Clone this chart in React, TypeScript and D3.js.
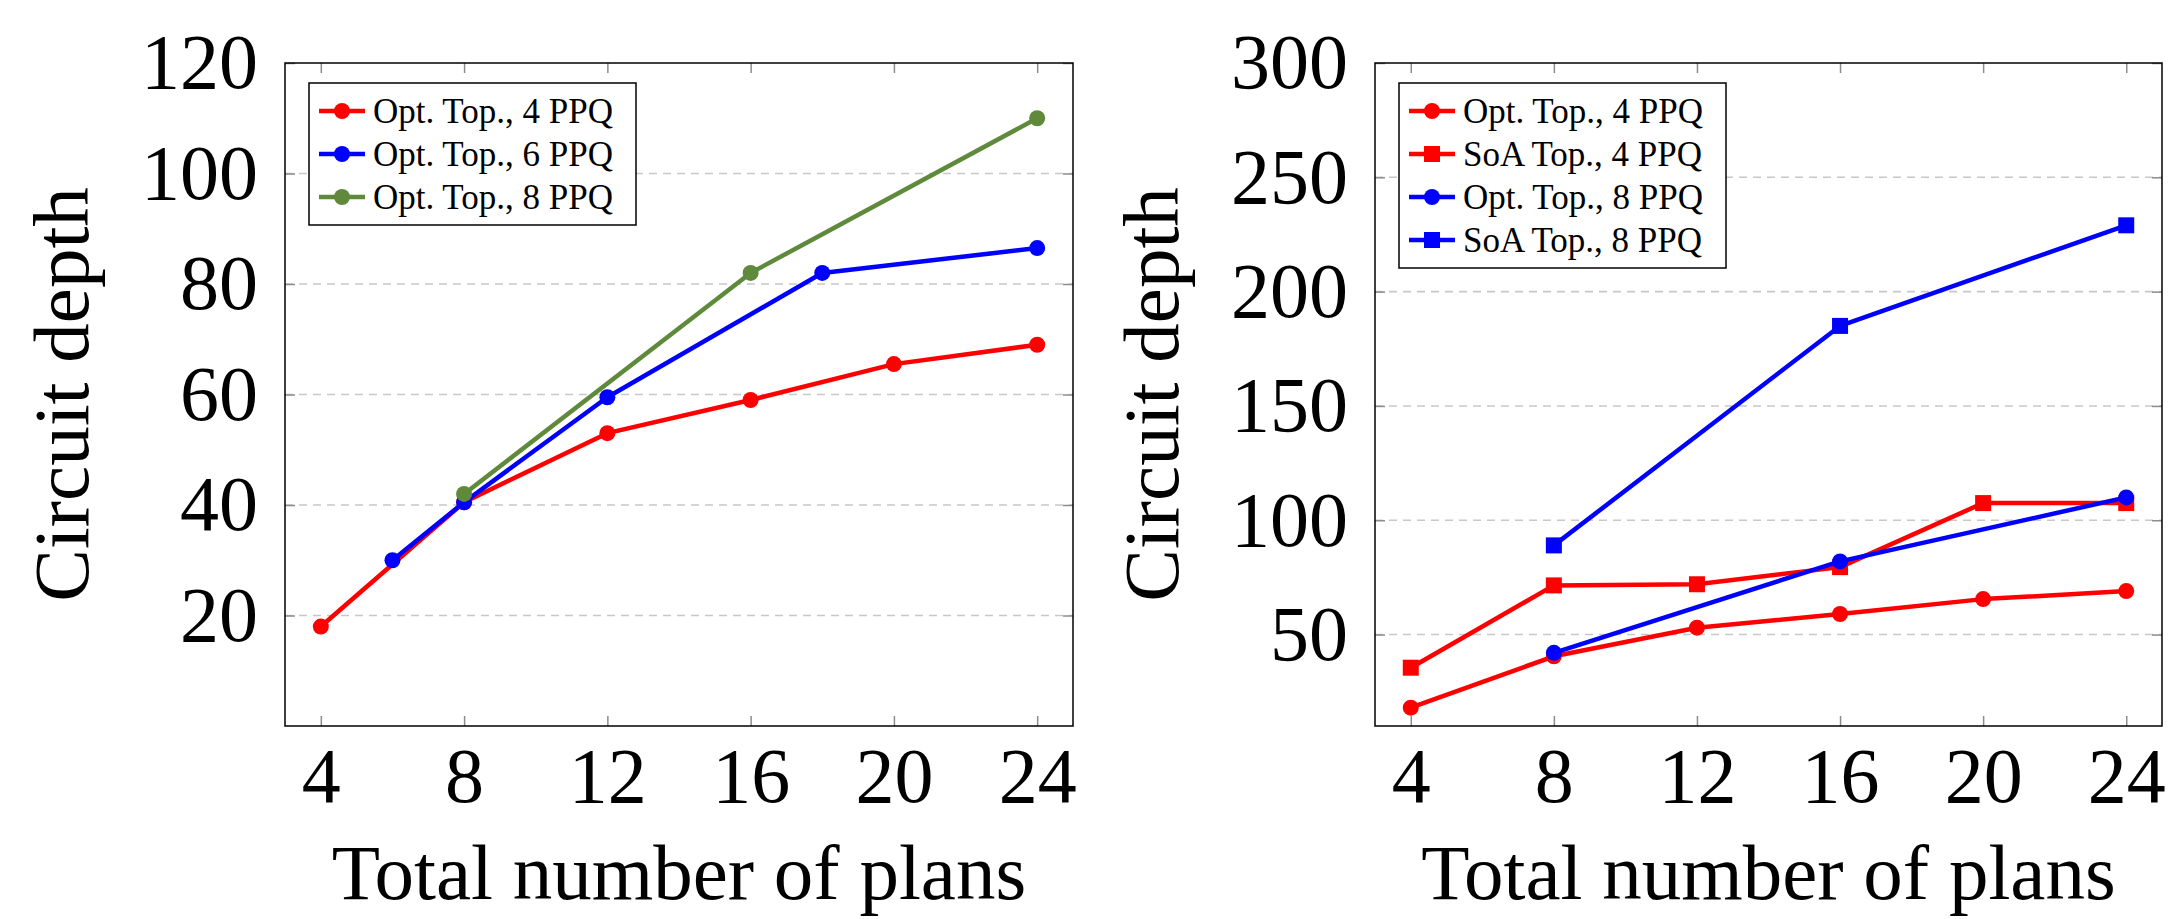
import { useEffect, useRef } from "react";
import * as d3 from "d3";

// x axis: total number of plans
const planTicks = [4, 8, 12, 16, 20, 24];
const leftYTicks = [20, 40, 60, 80, 100, 120];
const rightYTicks = [50, 100, 150, 200, 250, 300];

// Opt. Top., 4 PPQ (both panels)
const opt4X = [4, 8, 12, 16, 20, 24];
const opt4Y = [18, 40.5, 53, 59, 65.5, 69];
// Opt. Top., 6 PPQ (left panel)
const opt6X = [6, 8, 12, 18, 24];
const opt6Y = [30, 40.5, 59.5, 82, 86.5];
// Opt. Top., 8 PPQ (both panels)
const opt8X = [8, 16, 24];
const opt8Y = [42, 82, 110];
// SoA Top., 4 PPQ (right panel)
const soa4X = [4, 8, 12, 16, 20, 24];
const soa4Y = [35.5, 71.5, 72, 79.5, 107.5, 107.5];
// SoA Top., 8 PPQ (right panel)
const soa8X = [8, 16, 24];
const soa8Y = [89, 185, 229];

const RED = "#ff0000";
const BLUE = "#0000ff";
const GREEN = "#5f8a3c";
const FONT = "'Liberation Serif', 'Times New Roman', serif";

function drawPanel(svg, opts) {
  const { left, top, width, height, yDomain, yTicks, series } = opts;
  const x = d3.scaleLinear().domain([3, 25]).range([left, left + width]);
  const y = d3.scaleLinear().domain(yDomain).range([top + height, top]);
  const g = svg.append("g");

  // dashed horizontal grid
  g.selectAll("line.grid")
    .data(yTicks.filter((t) => t < yDomain[1]))
    .enter()
    .append("line")
    .attr("class", "grid")
    .attr("x1", left)
    .attr("x2", left + width)
    .attr("y1", (d) => y(d))
    .attr("y2", (d) => y(d))
    .attr("stroke", "#c8c8c8")
    .attr("stroke-width", 1.6)
    .attr("stroke-dasharray", "8,6");

  const styleAxis = (sel) => {
    sel.select(".domain").remove();
    sel.selectAll(".tick line").attr("stroke", "#8c8c8c").attr("stroke-width", 1.5);
    sel.selectAll(".tick text")
      .attr("font-family", FONT)
      .attr("font-size", 78)
      .attr("fill", "#000");
  };

  g.append("g")
    .attr("transform", `translate(0,${top + height})`)
    .call(d3.axisBottom(x).tickValues(planTicks).tickSizeInner(-10).tickSizeOuter(0).tickPadding(21))
    .call(styleAxis);
  g.append("g")
    .attr("transform", `translate(0,${top})`)
    .call(d3.axisTop(x).tickValues(planTicks).tickSizeInner(-10).tickSizeOuter(0).tickFormat(() => ""))
    .call(styleAxis);
  g.append("g")
    .attr("transform", `translate(${left},0)`)
    .call(d3.axisLeft(y).tickValues(yTicks).tickSizeInner(-10).tickSizeOuter(0).tickPadding(27))
    .call(styleAxis);
  g.append("g")
    .attr("transform", `translate(${left + width},0)`)
    .call(d3.axisRight(y).tickValues(yTicks).tickSizeInner(-10).tickSizeOuter(0).tickFormat(() => ""))
    .call(styleAxis);

  g.append("rect")
    .attr("x", left)
    .attr("y", top)
    .attr("width", width)
    .attr("height", height)
    .attr("fill", "none")
    .attr("stroke", "#000")
    .attr("stroke-width", 1.5);

  // axis titles
  g.append("text")
    .attr("x", left + width / 2)
    .attr("y", 899)
    .attr("text-anchor", "middle")
    .attr("font-family", FONT)
    .attr("font-size", 79)
    .text("Total number of plans");
  g.append("text")
    .attr("transform", `translate(${left - 197},${top + height / 2}) rotate(-90)`)
    .attr("text-anchor", "middle")
    .attr("font-family", FONT)
    .attr("font-size", 79)
    .text("Circuit depth");

  // series
  const line = d3.line().x((d) => x(d[0])).y((d) => y(d[1]));
  const drawMarker = (sel, shape, color, cx, cy) => {
    if (shape === "square") {
      sel.append("rect")
        .attr("x", cx - 8)
        .attr("y", cy - 8)
        .attr("width", 16)
        .attr("height", 16)
        .attr("fill", color);
    } else {
      sel.append("circle").attr("cx", cx).attr("cy", cy).attr("r", 8).attr("fill", color);
    }
  };

  series.forEach((s) => {
    const pts = d3.zip(s.xs, s.ys);
    const sg = g.append("g");
    sg.append("path")
      .attr("d", line(pts))
      .attr("fill", "none")
      .attr("stroke", s.color)
      .attr("stroke-width", 4.5)
      .attr("stroke-linejoin", "round");
    pts.forEach((p) => drawMarker(sg, s.shape, s.color, x(p[0]), y(p[1])));
  });

  // legend
  const lx = left + 24;
  const ly = top + 20;
  const rowH = 43;
  const lg = g.append("g");
  lg.append("rect")
    .attr("x", lx)
    .attr("y", ly)
    .attr("width", 327)
    .attr("height", 13 + rowH * series.length)
    .attr("fill", "#fff")
    .attr("stroke", "#000")
    .attr("stroke-width", 1.5);
  series.forEach((s, i) => {
    const cy = ly + 28 + i * rowH;
    lg.append("line")
      .attr("x1", lx + 10)
      .attr("x2", lx + 56)
      .attr("y1", cy)
      .attr("y2", cy)
      .attr("stroke", s.color)
      .attr("stroke-width", 4.5);
    drawMarker(lg, s.shape, s.color, lx + 33, cy);
    lg.append("text")
      .attr("x", lx + 64)
      .attr("y", cy + 11.5)
      .attr("font-family", FONT)
      .attr("font-size", 35)
      .text(s.label);
  });
}

const App = () => {
  const ref = useRef(null);

  useEffect(() => {
    const svg = d3.select(ref.current).html("");

    drawPanel(svg, {
      left: 285,
      top: 63,
      width: 788,
      height: 663,
      yDomain: [0, 120],
      yTicks: leftYTicks,
      series: [
        { label: "Opt. Top., 4 PPQ", xs: opt4X, ys: opt4Y, color: RED, shape: "circle" },
        { label: "Opt. Top., 6 PPQ", xs: opt6X, ys: opt6Y, color: BLUE, shape: "circle" },
        { label: "Opt. Top., 8 PPQ", xs: opt8X, ys: opt8Y, color: GREEN, shape: "circle" },
      ],
    });

    drawPanel(svg, {
      left: 1375,
      top: 63,
      width: 787,
      height: 663,
      yDomain: [10, 300],
      yTicks: rightYTicks,
      series: [
        { label: "Opt. Top., 4 PPQ", xs: opt4X, ys: opt4Y, color: RED, shape: "circle" },
        { label: "SoA Top., 4 PPQ", xs: soa4X, ys: soa4Y, color: RED, shape: "square" },
        { label: "Opt. Top., 8 PPQ", xs: opt8X, ys: opt8Y, color: BLUE, shape: "circle" },
        { label: "SoA Top., 8 PPQ", xs: soa8X, ys: soa8Y, color: BLUE, shape: "square" },
      ],
    });
  }, []);

  return (
    <svg
      ref={ref}
      width={2169}
      height={919}
      style={{ position: "absolute", left: 0, top: 0, background: "#fff" }}
    ></svg>
  );
};

export default App;
